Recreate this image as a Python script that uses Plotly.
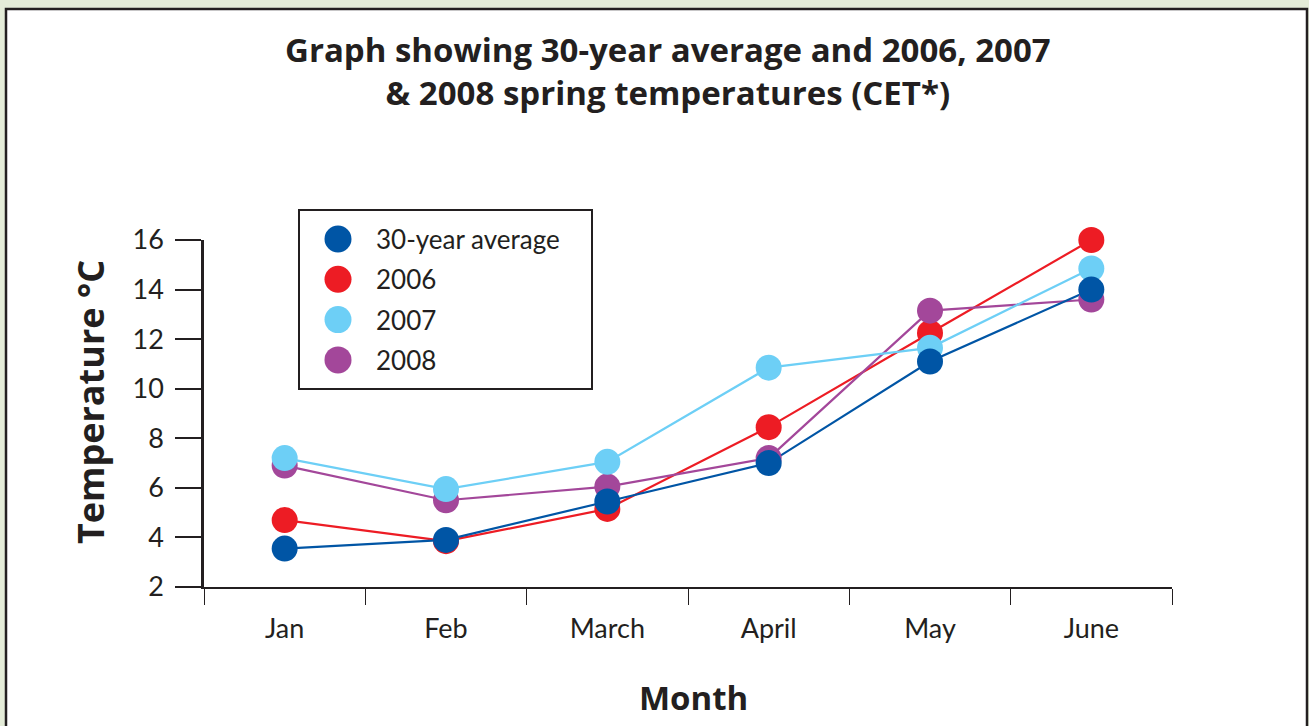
import plotly.graph_objects as go

# ---- data ----
months = ["Jan", "Feb", "March", "April", "May", "June"]
avg_30yr = [3.55, 3.9, 5.45, 7.0, 11.1, 14.0]
t2006 = [4.7, 3.85, 5.15, 8.45, 12.25, 16.0]
t2007 = [7.2, 5.95, 7.05, 10.85, 11.65, 14.85]
t2008 = [6.9, 5.5, 6.05, 7.2, 13.15, 13.6]
series_names = ["30-year average", "2006", "2007", "2008"]
y_ticks = [2, 4, 6, 8, 10, 12, 14, 16]

colors = {
    "30-year average": "#0055a5",
    "2006": "#ed1c24",
    "2007": "#6dcff6",
    "2008": "#a3479a",
}
values = {
    "30-year average": avg_30yr,
    "2006": t2006,
    "2007": t2007,
    "2008": t2008,
}
draw_order = ["2006", "2008", "2007", "30-year average"]

TXT = "#231f20"
FONT = "Lato"
BOLD_FONT = "Open Sans"

fig = go.Figure()

# lines first
for name in draw_order:
    fig.add_trace(go.Scatter(
        x=months, y=values[name], mode="lines", name=name,
        line=dict(color=colors[name], width=2.2),
        showlegend=False, cliponaxis=False, hoverinfo="skip",
    ))
# markers on top
for name in draw_order:
    fig.add_trace(go.Scatter(
        x=months, y=values[name], mode="markers", name=name,
        marker=dict(color=colors[name], size=26, line=dict(width=0)),
        showlegend=False, cliponaxis=False,
    ))

# plot area in pixels: x 204..1172, y 240..587
L, R, T, B = 204, 137, 240, 139
W, H = 1309, 726
pw, ph = W - L - R, H - T - B


def px_x(px):
    return (px - L) / pw


def px_y(py):
    return (H - B - py) / ph


shapes = []
# white panel with dark frame
shapes.append(dict(type="rect", xref="paper", yref="paper",
                   x0=px_x(6), x1=px_x(1307), y0=px_y(760), y1=px_y(9),
                   fillcolor="white", line=dict(color=TXT, width=2.5),
                   layer="below"))
# custom legend box
shapes.append(dict(type="rect", xref="paper", yref="paper",
                   x0=px_x(299), x1=px_x(592), y0=px_y(389), y1=px_y(210),
                   fillcolor="white", line=dict(color=TXT, width=2),
                   layer="above"))
annotations = []
for i, name in enumerate(series_names):
    cy = px_y(239 + i * 40.3)
    shapes.append(dict(type="circle", xref="paper", yref="paper",
                       xsizemode="pixel", ysizemode="pixel",
                       xanchor=px_x(338), yanchor=cy,
                       x0=-13.5, x1=13.5, y0=-13.5, y1=13.5,
                       fillcolor=colors[name], line=dict(width=0),
                       layer="above"))
    annotations.append(dict(xref="paper", yref="paper", x=px_x(374), y=cy,
                            xanchor="left", yanchor="middle", showarrow=False,
                            text=name, font=dict(family=FONT, size=26, color=TXT)))

# title
annotations.append(dict(
    xref="paper", yref="paper", x=px_x(668), y=px_y(71),
    xanchor="center", yanchor="middle", showarrow=False,
    text="<b>Graph showing 30-year average and 2006, 2007<br>&amp; 2008 spring temperatures (CET*)</b>",
    font=dict(family=BOLD_FONT, size=33, color=TXT), align="center"))
# y axis title
annotations.append(dict(
    xref="paper", yref="paper", x=px_x(90), y=px_y(402),
    xanchor="center", yanchor="middle", showarrow=False, textangle=-90,
    text="<b>Temperature °C</b>", font=dict(family=BOLD_FONT, size=36, color=TXT)))
# x axis title
annotations.append(dict(
    xref="paper", yref="paper", x=px_x(693), y=px_y(697),
    xanchor="center", yanchor="middle", showarrow=False,
    text="<b>Month</b>", font=dict(family=BOLD_FONT, size=33, color=TXT)))

fig.update_layout(
    width=W, height=H,
    margin=dict(l=L, r=R, t=T, b=B, autoexpand=False),
    paper_bgcolor="#e4ecd8",
    plot_bgcolor="rgba(0,0,0,0)",
    showlegend=False,
    shapes=shapes,
    annotations=annotations,
    font=dict(family=FONT, color=TXT),
)
fig.update_xaxes(
    type="category", categoryorder="array", categoryarray=months,
    range=[-0.5, len(months) - 0.5],
    showline=True, linecolor=TXT, linewidth=2,
    ticks="outside", tickson="boundaries", ticklen=16, tickwidth=1.2,
    tickcolor=TXT, showgrid=False, zeroline=False,
    tickfont=dict(family=FONT, size=27, color=TXT),
    ticklabelstandoff=17,
)
fig.update_yaxes(
    range=[2, 16], tickvals=y_ticks,
    showline=True, linecolor=TXT, linewidth=2.5,
    ticks="outside", ticklen=26, tickwidth=1.5, tickcolor=TXT,
    showgrid=False, zeroline=False,
    tickfont=dict(family=FONT, size=27, color=TXT),
    ticklabelstandoff=6,
)

fig.write_html(
    "out.html",
    config={"displayModeBar": False},
    post_script="document.body.style.margin='0';document.body.style.overflow='hidden';",
)
